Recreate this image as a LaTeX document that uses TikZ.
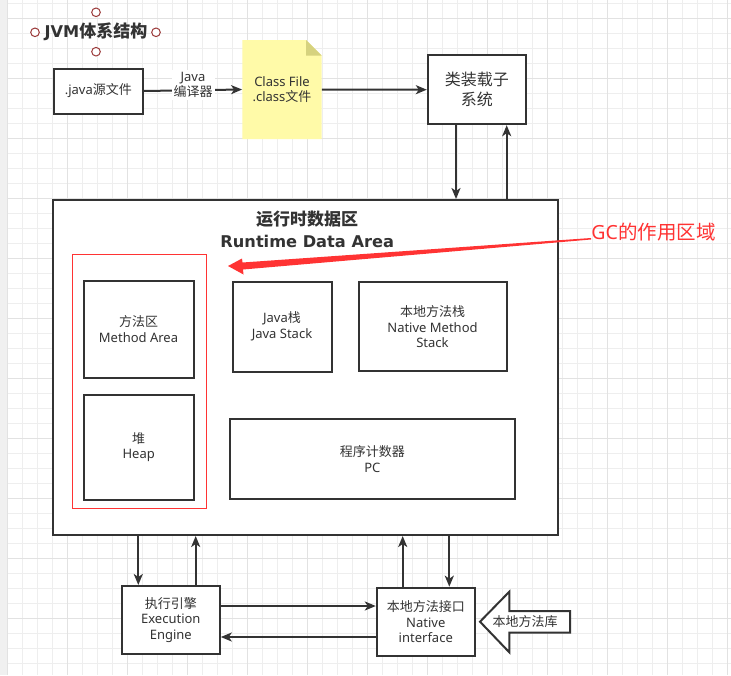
\documentclass[tikz,border=0pt]{standalone}
\usepackage{fontspec}
\setmainfont{Noto Sans}
\newfontfamily\zhfont{Noto Sans CJK SC}
\newfontfamily\latbold{DejaVu Sans}
\newcommand{\zh}[1]{{\zhfont #1}}
\newcommand{\lb}[1]{{\latbold\bfseries\fontsize{16.2}{20}\selectfont #1}}
\usetikzlibrary{arrows.meta,calc}
\definecolor{ink}{HTML}{333333}
\definecolor{gcred}{HTML}{FF3333}
\definecolor{gridminor}{HTML}{EEEEEE}
\definecolor{gridmajor}{HTML}{E2E2E2}
\definecolor{notefill}{HTML}{FFFAA8}
\definecolor{notefold}{HTML}{D6D27E}
\definecolor{handlecol}{HTML}{9B3A3A}
\definecolor{edgecol}{HTML}{F0F0F0}
\begin{document}
\begin{tikzpicture}[x=1pt,y=-1pt,
  every node/.style={text=ink, font=\fontsize{13}{15.5}\selectfont, align=center, inner sep=0pt},
  box/.style={draw=ink, line width=2pt, fill=white, rectangle},
  arr/.style={draw=ink, line width=2pt, -{Stealth[length=11pt,width=9pt,inset=3pt]}},
  handle/.style={circle, draw=handlecol, fill=white, line width=1pt, minimum size=8.6pt},
  heading/.style={font=\fontsize{17}{22}\selectfont\bfseries},
]
\useasboundingbox (0,0) rectangle (731,675);
% background grid
\fill[white] (0,0) rectangle (731,675);
\fill[edgecol] (0,0) rectangle (7.3,675);
\foreach \k in {0,...,48} \draw[gridminor, line width=1pt] ({7.3+15*\k},0) -- ({7.3+15*\k},675);
\foreach \k in {0,...,44} \draw[gridminor, line width=1pt] (7.3,{3.3+15*\k}) -- (731,{3.3+15*\k});
\foreach \k in {0,...,12} \draw[gridmajor, line width=1pt] ({7.3+60*\k},0) -- ({7.3+60*\k},675);
\foreach \k in {0,...,10} \draw[gridmajor, line width=1pt] (7.3,{18.3+60*\k}) -- (731,{18.3+60*\k});

% title with selection handles
\node[heading] (title) at (96,32) {\lb{JVM}\zh{体系结构}};
\node[handle] (h1) at (96,12.3) {};
\node[handle] (h2) at (96,51.7) {};
\node[handle] (h3) at (35,32.3) {};
\node[handle] (h4) at (156,32.3) {};

% top row
\node[box, minimum width=89pt, minimum height=45pt] (src) at (98.3,91) {.java\zh{源文件}};
\fill[notefill] (242.3,40) -- (306,40) -- (321.7,55.7) -- (321.7,139) -- (242.3,139) -- cycle;
\fill[notefold] (306,40) -- (306,55.7) -- (321.7,55.7) -- cycle;
\node[minimum width=79.4pt, minimum height=99pt] (note) at (282,89.5) {Class File\\.class\zh{文件}};
\node[box, font=\fontsize{16}{20}\selectfont, minimum width=98pt, minimum height=69pt] (cls) at (476.8,89.7) {\zh{类装载子}\\\zh{系统}};

\draw[arr] (src.east) -- (note.west);
\node[fill=white, inner sep=2pt] (jc) at (193,85) {Java\\\zh{编译器}};
\draw[arr] (note.east) -- (cls.west);

% runtime data area
\node[box, minimum width=505pt, minimum height=335pt] (rt) at (305.2,367.5) {};
\node[heading] (rttitle) at (307.2,229) {\zh{运行时数据区}\\\lb{Runtime Data Area}};

\coordinate (xa) at (456,0);
\coordinate (xb) at (506.7,0);
\draw[arr] (cls.south -| xa) -- (rt.north -| xa);
\draw[arr] (rt.north -| xb) -- (cls.south -| xb);

\node[draw=gcred, line width=1pt, minimum width=134pt, minimum height=254pt] (gcarea) at (139.8,381.8) {};
\node[box, minimum width=110pt, minimum height=97pt] (ma) at (138.5,329) {\zh{方法区}\\Method Area};
\node[box, minimum width=110pt, minimum height=105pt] (heap) at (138.7,447) {\zh{堆}\\Heap};
\node[box, minimum width=99pt, minimum height=90pt] (js) at (282,326.5) {Java\zh{栈}\\Java Stack};
\node[box, minimum width=148pt, minimum height=89pt] (nms) at (432.5,326.7) {\zh{本地方法栈}\\Native Method\\Stack};
\node[box, minimum width=285pt, minimum height=80pt] (pc) at (372.3,459) {\zh{程序计数器}\\PC};

% GC annotation
\node[text=gcred, font=\fontsize{19.5}{22}\selectfont] (gclabel) at (653.5,232) {GC\zh{的作用区域}};
\fill[gcred] (228,266) -- (242,258.5) -- (242.5,262.5) -- (591,238) -- (591,239.5) -- (243,269.5) -- (243.5,274.5) -- cycle;

% bottom row
\node[box, minimum width=98pt, minimum height=68pt] (ee) at (170.8,620) {\zh{执行引擎}\\Execution\\Engine};
\node[box, minimum width=98pt, minimum height=68pt] (ni) at (425.8,621.7) {\zh{本地方法接口}\\Native\\interface};

\coordinate (xc) at (138.3,0);
\coordinate (xd) at (195.7,0);
\coordinate (xe) at (402.7,0);
\coordinate (xf) at (449.3,0);
\coordinate (ya) at (0,606);
\coordinate (yb) at (0,637);
\draw[arr] (rt.south -| xc) -- (ee.north -| xc);
\draw[arr] (ee.north -| xd) -- (rt.south -| xd);
\draw[arr] (ni.north -| xe) -- (rt.south -| xe);
\draw[arr] (rt.south -| xf) -- (ni.north -| xf);
\draw[arr] (ee.east |- ya) -- (ni.west |- ya);
\draw[arr] (ni.west |- yb) -- (ee.east |- yb);

% native library block arrow
\draw[draw=ink, line width=2pt, fill=white, line join=miter] (480,621.7) -- (509.3,591.7) -- (509.3,611) -- (570,611) -- (570,632.7) -- (509.3,632.7) -- (509.3,652.3) -- cycle;
\node (lib) at (525,621.7) {\zh{本地方法库}};
\end{tikzpicture}
\end{document}
